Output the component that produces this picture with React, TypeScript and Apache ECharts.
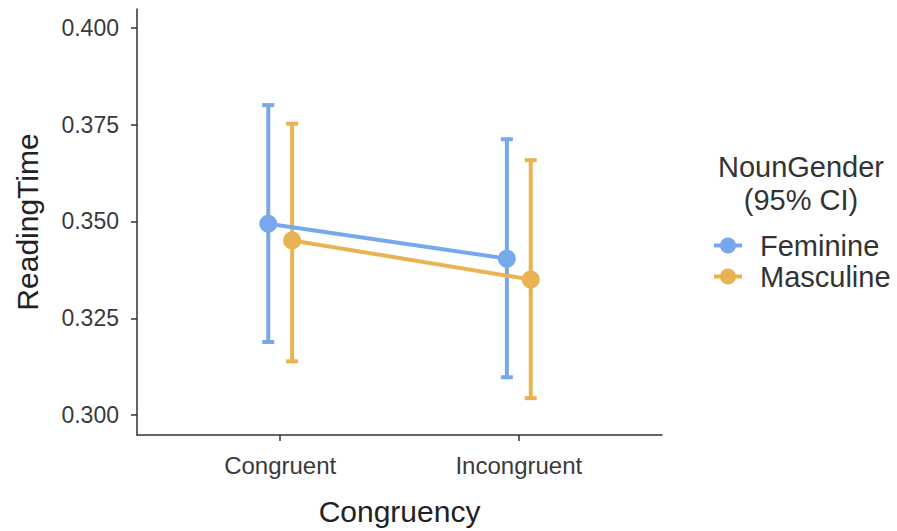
import React, { useEffect, useRef } from "react";
import * as echarts from "echarts";

const categories = ["Congruent", "Incongruent"];
const genders = ["Feminine", "Masculine"];
const femMean = [0.3494, 0.3404];
const femLow = [0.3189, 0.3098];
const femHigh = [0.38, 0.3712];
const mascMean = [0.3451, 0.335];
const mascLow = [0.3139, 0.3044];
const mascHigh = [0.3752, 0.3658];
const yTicks = [0.3, 0.325, 0.35, 0.375, 0.4];

const COLORS = ["#78A8EC", "#E9B252"];
const DODGE = 0.05;
const FONT = "Liberation Sans, Arial, Helvetica, sans-serif";

export default function App() {
  const ref = useRef<HTMLDivElement>(null);
  useEffect(() => {
    if (!ref.current) return;
    const chart = echarts.init(ref.current, undefined, { renderer: "svg" });
    const groups = [
      { name: genders[0], mean: femMean, low: femLow, high: femHigh, off: -DODGE, color: COLORS[0] },
      { name: genders[1], mean: mascMean, low: mascLow, high: mascHigh, off: DODGE, color: COLORS[1] },
    ];
    const series: any[] = [];
    groups.forEach((g) => {
      series.push({
        type: "custom",
        name: g.name + "_ci",
        data: categories.map((_, i) => [i + 1 + g.off, g.low[i], g.high[i]]),
        encode: { x: 0, y: [1, 2] },
        z: 2,
        renderItem: (params: any, api: any) => {
          const x = api.value(0);
          const lo = api.coord([x, api.value(1)]);
          const hi = api.coord([x, api.value(2)]);
          const hw = 6;
          const style = { stroke: g.color, lineWidth: 4, fill: "none" };
          return {
            type: "group",
            children: [
              { type: "line", shape: { x1: lo[0], y1: lo[1], x2: hi[0], y2: hi[1] }, style },
              { type: "line", shape: { x1: lo[0] - hw, y1: lo[1], x2: lo[0] + hw, y2: lo[1] }, style },
              { type: "line", shape: { x1: hi[0] - hw, y1: hi[1], x2: hi[0] + hw, y2: hi[1] }, style },
            ],
          };
        },
      });
    });
    groups.forEach((g) => {
      series.push({
        type: "line",
        name: g.name,
        data: categories.map((_, i) => [i + 1 + g.off, g.mean[i]]),
        symbol: "circle",
        symbolSize: 18,
        itemStyle: { color: g.color },
        lineStyle: { color: g.color, width: 4 },
        z: 3,
      });
    });
    chart.setOption({
      animation: false,
      backgroundColor: "#ffffff",
      grid: { left: 137, right: 235, top: 9, bottom: 94, containLabel: false },
      xAxis: {
        type: "value",
        min: 0.4,
        max: 2.6,
        name: "Congruency",
        nameLocation: "middle",
        nameGap: 61,
        nameTextStyle: { fontFamily: FONT, fontSize: 30, color: "#222" },
        axisLine: { show: true, lineStyle: { color: "#333", width: 1.5 } },
        axisTick: { show: true, length: 6, customValues: [1, 2], lineStyle: { color: "#333", width: 1.5 } },
        axisLabel: {
          customValues: [1, 2],
          formatter: (v: number) => categories[Math.round(v) - 1] ?? "",
          fontFamily: FONT,
          fontSize: 24,
          color: "#3a3a3a",
          margin: 18,
        },
        splitLine: { show: false },
      },
      yAxis: {
        type: "value",
        min: 0.2949,
        max: 0.4048,
        name: "ReadingTime",
        nameLocation: "middle",
        nameGap: 95,
        nameTextStyle: { fontFamily: FONT, fontSize: 30, color: "#222" },
        axisLine: { show: true, lineStyle: { color: "#333", width: 1.5 } },
        axisTick: { show: true, length: 6, customValues: yTicks, lineStyle: { color: "#333", width: 1.5 } },
        axisLabel: {
          customValues: yTicks,
          formatter: (v: number) => v.toFixed(3),
          fontFamily: FONT,
          fontSize: 23,
          color: "#3a3a3a",
          margin: 18,
        },
        splitLine: { show: false },
      },
      legend: {
        data: genders,
        orient: "vertical",
        left: 712,
        top: 231,
        padding: 0,
        itemWidth: 28,
        itemHeight: 20,
        itemGap: 2,
        lineStyle: { width: 4 },
        textStyle: { fontFamily: FONT, fontSize: 29, color: "#333", lineHeight: 20, padding: [0, 0, 0, 13] },
      },
      graphic: [
        {
          type: "text",
          x: 801,
          y: 150,
          style: {
            text: "NounGender\n(95% CI)",
            align: "center",
            verticalAlign: "top",
            fontFamily: FONT,
            fontSize: 29,
            lineHeight: 33,
            fill: "#333",
          },
        },
      ],
      series,
    });
    return () => chart.dispose();
  }, []);
  return (
    <div
      ref={ref}
      style={{ position: "absolute", left: 0, top: 0, width: 897, height: 531 }}
    />
  );
}
